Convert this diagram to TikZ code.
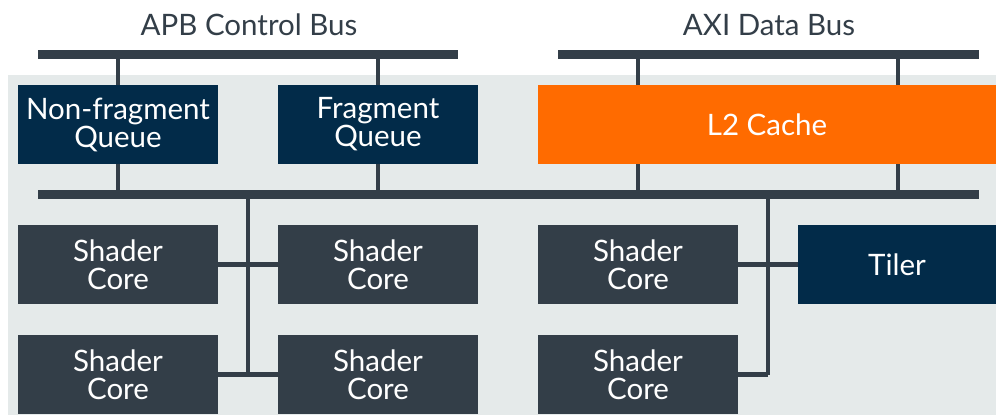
\documentclass[tikz,border=0pt]{standalone}
\usepackage{fontspec}
\setmainfont{Lato}
\definecolor{bgc}{HTML}{E5EAEA}
\definecolor{navy}{HTML}{022B49}
\definecolor{slate}{HTML}{333E48}
\definecolor{armorange}{HTML}{FF6B00}
\begin{document}
\begin{tikzpicture}[x=1pt,y=-1pt,
  blk/.style={rectangle, inner sep=0pt, outer sep=0pt, text=white, align=center,
    font=\fontsize{29.5}{28}\selectfont, minimum height=79pt},
  navyblk/.style={blk, fill=navy, minimum width=200pt},
  coreblk/.style={blk, fill=slate, minimum width=200pt},
  cacheblk/.style={blk, fill=armorange},
  bus/.style={draw=slate, line width=9pt},
  wire/.style={draw=slate, line width=4.5pt},
  title/.style={text=slate, font=\fontsize{29.5}{28}\selectfont, inner sep=0pt, anchor=base}]
\useasboundingbox (0,0) rectangle (996,415);
\fill[bgc] (8,75) rectangle (996,415);
% buses
\coordinate (apbL) at (38,54.5);
\coordinate (apbR) at (458,54.5);
\coordinate (axiL) at (558,54.5);
\coordinate (axiR) at (979,54.5);
\coordinate (lbL) at (38,194.5);
\coordinate (lbR) at (979,194.5);
\node[title] (apbt) at (249,35) {APB Control Bus};
\node[title] (axit) at (769,35) {AXI Data Bus};
% blocks
\node[navyblk] (nfq) at (118,124.5) {Non-fragment\\Queue};
\node[navyblk] (fq) at (378,124.5) {Fragment\\Queue};
\node[cacheblk, minimum width=458pt] (l2) at (767,124.5) {L2 Cache};
\node[coreblk] (sc1) at (118,264.5) {Shader\\Core};
\node[coreblk] (sc2) at (378,264.5) {Shader\\Core};
\node[coreblk] (sc3) at (118,374.5) {Shader\\Core};
\node[coreblk] (sc4) at (378,374.5) {Shader\\Core};
\node[coreblk] (sc5) at (638,264.5) {Shader\\Core};
\node[coreblk] (sc6) at (638,374.5) {Shader\\Core};
\node[navyblk, minimum width=198pt] (tiler) at (897,264.5) {Tiler};
% drops
\coordinate (l2a) at (638,164);
\coordinate (l2b) at (898,164);
\coordinate (l2at) at (638,85);
\coordinate (l2bt) at (898,85);
\draw[wire] (nfq.north) -- (nfq.north |- apbL);
\draw[wire] (fq.north) -- (fq.north |- apbL);
\draw[wire] (l2at) -- (l2at |- axiL);
\draw[wire] (l2bt) -- (l2bt |- axiL);
\draw[wire] (nfq.south) -- (nfq.south |- lbL);
\draw[wire] (fq.south) -- (fq.south |- lbL);
\draw[wire] (l2a) -- (l2a |- lbL);
\draw[wire] (l2b) -- (l2b |- lbL);
% spines
\coordinate (spL) at (248,194.5);
\coordinate (spLb) at (248,374.5);
\coordinate (spR) at (768,194.5);
\coordinate (spRb) at (768,374.5);
\draw[wire] (spL) -- (spLb);
\draw[wire] (spR) -- (spRb);
\draw[wire] (sc1.east) -- (sc2.west);
\draw[wire] (sc3.east) -- (sc4.west);
\draw[wire] (sc5.east) -- (tiler.west);
\draw[wire] (sc6.east) -- (spRb);
% buses on top
\draw[bus] (apbL) -- (apbR);
\draw[bus] (axiL) -- (axiR);
\draw[bus] (lbL) -- (lbR);
\end{tikzpicture}
\end{document}
